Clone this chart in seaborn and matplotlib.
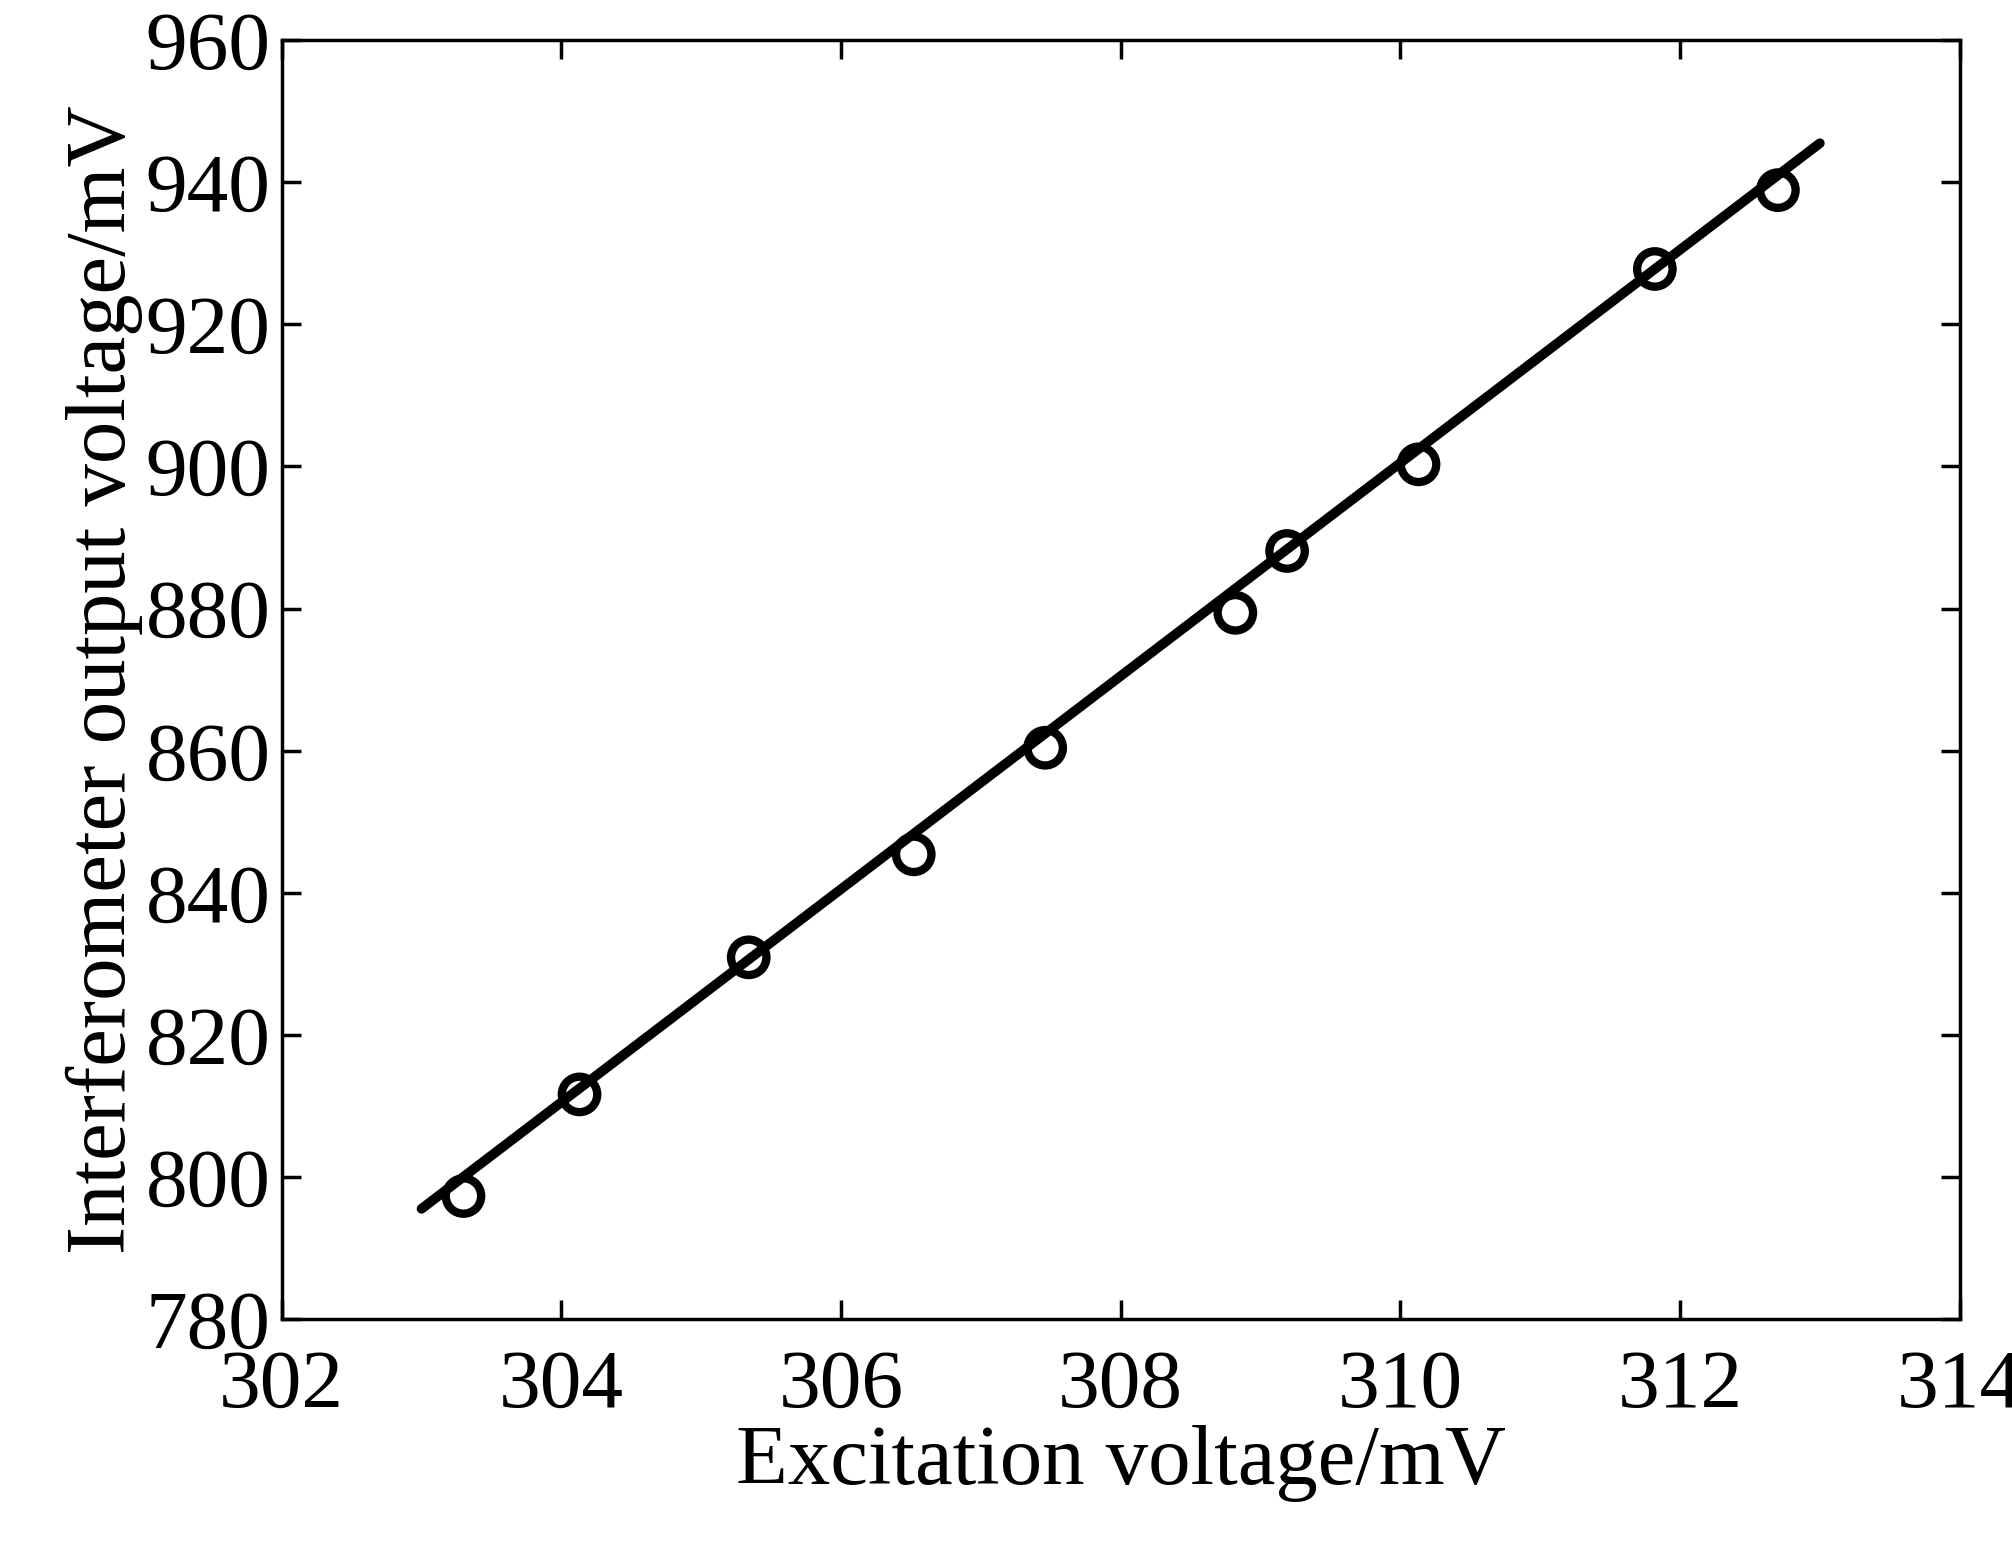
import matplotlib
matplotlib.use('Agg')
import matplotlib.pyplot as plt
import seaborn as sns
import pandas as pd

# measured points
exc_x = [303.3, 304.13, 305.34, 306.52, 307.46, 308.82, 309.19, 310.13, 311.82, 312.7]
out_y = [797.3, 811.6, 830.9, 845.4, 860.4, 879.4, 888.1, 900.3, 927.8, 938.9]
# fitted line ends
fit_x = [303.0, 313.0]
fit_y = [795.5, 945.5]

sns.set_style('ticks')
plt.rcParams['font.family'] = ['Liberation Serif', 'DejaVu Serif']
plt.rcParams['text.color'] = 'black'
plt.rcParams['xtick.color'] = 'black'
plt.rcParams['ytick.color'] = 'black'
plt.rcParams['axes.labelcolor'] = 'black'
plt.rcParams['axes.edgecolor'] = 'black'

fig = plt.figure(figsize=(20.12, 15.48), dpi=100)
ax = fig.add_axes([0.140, 0.148, 0.834, 0.826])

df = pd.DataFrame({'x': exc_x, 'y': out_y})
sns.lineplot(x=fit_x, y=fit_y, ax=ax, color='black', linewidth=7)
sns.scatterplot(data=df, x='x', y='y', ax=ax, s=650, facecolor='none',
                edgecolor='black', linewidth=6, zorder=3)

ax.set_xlim(302, 314)
ax.set_ylim(780, 960)
ax.set_xticks(range(302, 315, 2))
ax.set_yticks(range(780, 961, 20))
ax.tick_params(direction='in', length=14, width=2.5, labelsize=60,
               top=True, right=True)
ax.tick_params(axis='x', pad=22)
ax.tick_params(axis='y', pad=8)
for s in ax.spines.values():
    s.set_linewidth(2.5)
ax.set_xlabel('Excitation voltage/mV', fontsize=61, labelpad=0)
ax.set_ylabel('Interferometer output voltage/mV', fontsize=61, labelpad=2)

fig.savefig('out.png', dpi=100)
